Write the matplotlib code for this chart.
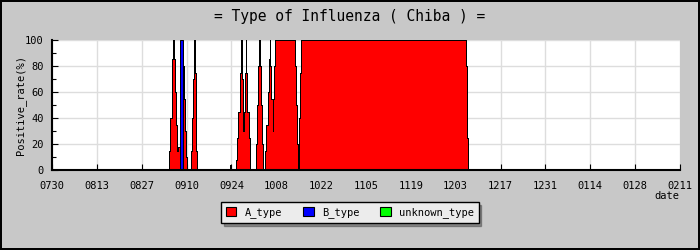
import matplotlib.pyplot as plt
import numpy as np

# day offsets from 07/30, positive rate (%) per type
days = [0, 36.3, 36.5, 36.9, 37.3, 37.6, 37.9, 38.1, 38.4, 38.7, 39.0, 39.3,
        40.0, 40.9, 41.2, 41.5, 41.8, 42.1, 43.4, 43.7, 44.0, 44.3, 44.5,
        44.8, 45.1, 45.4, 55.6, 55.8, 57.4, 57.8, 58.2, 58.6, 59.0, 59.2,
        59.5, 59.8, 60.1, 60.5, 60.7, 61.0, 61.4, 61.8, 63.7, 64.1, 64.4,
        64.7, 65.0, 65.3, 65.7, 66.0, 66.5, 66.9, 67.3, 67.6, 67.9, 68.2,
        68.5, 68.9, 69.1, 69.3, 69.6, 75.8, 76.1, 76.5, 76.8, 77.0, 77.3,
        77.7, 129.2, 129.4, 129.6, 129.8, 196]
a_type = [0, 0, 15, 40, 65, 85, 100, 85, 60, 35, 15, 18,
          0, 80, 55, 30, 10, 0, 15, 40, 70, 100, 75,
          45, 15, 0, 4, 0, 8, 25, 45, 75, 100, 70,
          30, 45, 75, 100, 75, 45, 25, 0, 20, 50, 80,
          100, 80, 50, 20, 0, 15, 35, 60, 85, 100, 80,
          55, 30, 55, 80, 100, 80, 50, 20, 0, 40, 75,
          100, 80, 50, 25, 0, 0]
b_type = [0] * len(days)
b_type[days.index(40.0)] = 100
unknown_type = [0] * len(days)

tick_labels = ['0730', '0813', '0827', '0910', '0924', '1008', '1022', '1105',
               '1119', '1203', '1217', '1231', '0114', '0128', '0211']

a = np.array(a_type, dtype=float)
b = np.array(b_type, dtype=float)
u = np.array(unknown_type, dtype=float)

font = 'DejaVu Sans Mono'
fig = plt.figure(figsize=(7, 2.5), dpi=100, facecolor='#c8c8c8',
                 edgecolor='black', linewidth=1.5)
ax = fig.add_axes([0.0743, 0.32, 0.897, 0.52])
ax.set_facecolor('white')

ax.fill_between(days, 0, a, step='post', color='#ff0000', edgecolor='black', linewidth=0.7)
ax.fill_between(days, a, a + b, step='post', color='#0000ff', edgecolor='black', linewidth=0.7)
ax.fill_between(days, a + b, a + b + u, step='post', color='#00ff00', linewidth=0)

ax.set_xlim(0, 196)
ax.set_ylim(0, 100)
ax.set_xticks(np.arange(0, 197, 14))
ax.set_xticklabels(tick_labels, fontfamily=font, fontsize=7.5)
ax.set_yticks(range(0, 101, 20))
ax.set_yticks(range(0, 101, 10), minor=True)
ax.set_yticklabels([str(v) for v in range(0, 101, 20)], fontfamily=font, fontsize=7.5)
ax.tick_params(axis='both', direction='in', length=4, width=0.8, pad=6)
ax.tick_params(axis='y', which='minor', direction='in', length=3, width=0.8)
ax.tick_params(axis='x', pad=8)
ax.grid(True, color='#dddddd', linewidth=1)
ax.set_axisbelow(True)

for s in ['top', 'right']:
    ax.spines[s].set_visible(False)
ax.spines['left'].set_linewidth(1.5)
ax.spines['bottom'].set_linewidth(1.5)

ax.set_ylabel('Positive_rate(%)', fontfamily=font, fontsize=7.5, labelpad=-1)
fig.text(0.953, 0.236, 'date', fontfamily=font, fontsize=7.5, ha='center', va='top')
fig.text(0.5, 0.935, '= Type of Influenza ( Chiba ) =', fontfamily=font,
         fontsize=10.5, ha='center', va='center')

handles = [plt.Rectangle((0, 0), 1, 1, facecolor=c, edgecolor='black', linewidth=0.8)
           for c in ['#ff0000', '#0000ff', '#00ff00']]
leg = fig.legend(handles, ['A_type', 'B_type', 'unknown_type'], loc='center',
                 bbox_to_anchor=(0.5, 0.15), ncol=3, fancybox=False, shadow=True,
                 prop={'family': font, 'size': 7.5}, handlelength=1.0, handleheight=1.0,
                 columnspacing=2.0, borderpad=0.45, framealpha=1)
leg.get_frame().set_facecolor('#ececec')
leg.get_frame().set_edgecolor('black')
leg.get_frame().set_linewidth(1)

fig.savefig('out.png', dpi=100, facecolor=fig.get_facecolor(), edgecolor='black')
